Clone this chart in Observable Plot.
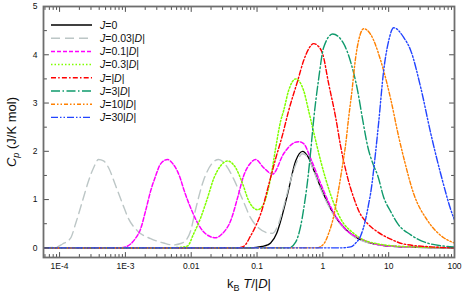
<!DOCTYPE html>
<html><head><meta charset="utf-8">
<script src="https://cdn.jsdelivr.net/npm/d3@7"></script>
<script src="https://cdn.jsdelivr.net/npm/@observablehq/plot@0.6"></script>
<style>
body{margin:0;background:#fff;}
#wrap{width:463px;height:299px;}
</style></head><body><div id="wrap"></div>
<script>
// ---- data: [kB T/|D|, Cp (J/K mol)] ----
const J0 = [[5.7e-5,0],[0.08,0],[0.12,0.03],[0.145,0.06],[0.161,0.1],[0.199,0.3],[0.229,0.56],[0.292,1.12],[0.386,1.8],[0.493,2.0],[0.588,1.9],[0.724,1.62],[0.927,1.25],[1.46,0.7],[2.65,0.29],[5.92,0.08],[15.2,0.02],[100,0]];
const J003 = [[5.7e-5,0],[8.7e-5,0.01],[1.11e-4,0.08],[1.47e-4,0.2],[1.75e-4,0.5],[2.24e-4,0.98],[2.76e-4,1.39],[3.29e-4,1.66],[3.91e-4,1.83],[4.66e-4,1.8],[5.56e-4,1.66],[7.1e-4,1.29],[9.07e-4,0.91],[1.12e-3,0.6],[1.53e-3,0.35],[2.42e-3,0.19],[3.81e-3,0.1],[5.21e-3,0.06],[6.9e-3,0.09],[8.22e-3,0.15],[9.79e-3,0.35],[0.01167,0.8],[0.01543,1.4],[0.0211,1.76],[0.0261,1.83],[0.0333,1.72],[0.0441,1.43],[0.0604,1.0],[0.08,0.62],[0.106,0.41],[0.145,0.31],[0.1726,0.3],[0.2056,0.45],[0.2535,0.85],[0.324,1.4],[0.414,1.82],[0.493,1.95],[0.608,1.85],[0.724,1.6],[0.927,1.22],[1.46,0.68],[2.65,0.28],[5.92,0.08],[15.2,0.02],[100,0]];
const J01 = [[5.7e-5,0],[7.88e-4,0],[1.007e-3,0.02],[1.2e-3,0.08],[1.43e-3,0.2],[1.7e-3,0.39],[2.03e-3,0.77],[2.42e-3,1.18],[2.88e-3,1.49],[3.43e-3,1.74],[4.38e-3,1.83],[5.21e-3,1.75],[6.21e-3,1.58],[6.9e-3,1.42],[7.67e-3,1.22],[9.79e-3,0.83],[0.0139,0.41],[0.0197,0.23],[0.0235,0.21],[0.03,0.3],[0.0397,0.56],[0.0507,1.04],[0.0625,1.49],[0.08,1.76],[0.0953,1.83],[0.126,1.66],[0.1726,1.53],[0.2535,1.95],[0.3475,2.16],[0.4285,2.2],[0.5105,2.16],[0.653,1.85],[0.927,1.33],[1.459,0.73],[2.223,0.38],[3.758,0.19],[9.66,0.04],[100,0]];
const J03 = [[5.7e-5,0],[3.81e-3,0],[6.9e-3,0.01],[8.81e-3,0.04],[0.01088,0.29],[0.0139,0.62],[0.01774,1.04],[0.0219,1.43],[0.028,1.7],[0.0357,1.8],[0.0473,1.66],[0.0604,1.33],[0.0745,0.98],[0.102,0.79],[0.126,0.91],[0.161,1.45],[0.192,2.07],[0.2286,2.63],[0.2535,2.84],[0.302,3.26],[0.386,3.5],[0.5105,3.26],[0.608,2.84],[0.7244,2.4],[0.927,1.8],[1.315,1.1],[1.866,0.6],[2.94,0.3],[4.8,0.13],[15.2,0.03],[100,0]];
const J1 = [[5.7e-5,0],[0.0507,0],[0.0625,0.03],[0.08,0.25],[0.0953,0.45],[0.1135,0.7],[0.15,1.3],[0.192,1.85],[0.245,2.35],[0.302,2.84],[0.414,3.46],[0.5105,3.88],[0.608,4.12],[0.7244,4.23],[0.863,4.17],[0.993,4.02],[1.225,3.4],[1.567,2.7],[1.866,2.1],[2.382,1.45],[2.94,1.04],[3.5,0.77],[4.8,0.5],[6.81,0.33],[10.74,0.18],[16.9,0.08],[43.6,0.02],[100,0]];
const J3 = [[5.7e-5,0],[0.302,0],[0.386,0.12],[0.46,0.45],[0.5105,0.8],[0.5875,1.4],[0.653,2.0],[0.7244,2.65],[0.863,3.5],[1.028,4.15],[1.41,4.43],[2.07,4.23],[2.646,3.85],[3.38,3.25],[4.03,2.65],[4.8,2.1],[5.92,1.7],[6.81,1.5],[8.39,1.05],[10.74,0.75],[13.7,0.5],[21.6,0.27],[43.6,0.08],[100,0.02]];
const J10 = [[5.7e-5,0],[0.805,0],[1.028,0.08],[1.225,0.3],[1.459,0.65],[1.679,1.1],[1.932,1.6],[2.223,2.15],[2.466,2.7],[2.74,3.2],[3.155,3.95],[3.5,4.3],[4.17,4.54],[5.33,4.42],[7.57,3.88],[10.74,3.08],[14.2,2.3],[16.9,1.87],[24.0,1.12],[39.2,0.56],[68.5,0.21],[100,0.1]];
const J30 = [[5.7e-5,0],[1.866,0],[2.646,0.02],[3.155,0.1],[3.758,0.25],[4.477,0.6],[4.966,0.91],[5.33,1.14],[6.35,2.0],[7.05,2.6],[8.39,3.67],[10.0,4.29],[11.9,4.56],[16.9,4.36],[21.6,4.09],[30.7,3.32],[43.6,2.37],[61.8,1.53],[97.3,0.62],[100,0.58]];

const seriesData = [J0, J003, J01, J03, J1, J3, J10, J30];
const legendCoef = ["0", "0.03", "0.1", "0.3", "", "3", "10", "30"]; // J = coef|D|
const seriesColors = ["#000000", "#bcc6c6", "#ff00ff", "#80ff00", "#ff0000", "#0f9a6c", "#ff8000", "#2244ff"];
const seriesDash = [null, "9,5", "4,2", "1.5,2", "5,2.2,1.5,2.2", "9,2.5,1.5,2.5", "4,2,1.5,2,1.5,2", "7,2,1.5,2,1.5,2"];
const seriesWidth = [1.3, 1.4, 1.5, 1.5, 1.4, 1.4, 1.4, 1.4];

const xTickValues = [1e-4, 1e-3, 1e-2, 1e-1, 1, 10, 100];
const xTickLabels = ["1E-4", "1E-3", "0.01", "0.1", "1", "10", "100"];
const yTickValues = [0, 1, 2, 3, 4, 5];
const yTickLabels = ["0", "1", "2", "3", "4", "5"];
const yMinorValues = [0.5, 1.5, 2.5, 3.5, 4.5];
const xDomain = [5.7e-5, 100];
const yDomain = [-0.2, 5];

const xMinorValues = [];
for (let e = -5; e <= 1; e++) for (let k = 2; k <= 9; k++) {
  const v = k * Math.pow(10, e);
  if (v > xDomain[0] && v < xDomain[1]) xMinorValues.push(v);
}

const tickShape = {draw(c, l) { c.moveTo(0, 0); c.lineTo(0, -l); }};
const tickColor = "#505050";
const tickMarks = (vals, len, anchor, rot, ch) => Plot.vector(vals, {
  [ch]: d => d, frameAnchor: anchor, rotate: rot, length: len, anchor: "start",
  shape: tickShape, stroke: tickColor, strokeWidth: 1
});

const font = "'Liberation Sans', Arial, sans-serif";

const plot = Plot.plot({
  width: 463, height: 299,
  marginLeft: 43, marginRight: 9, marginTop: 6, marginBottom: 42,
  style: {fontFamily: font, fontSize: "8.5px", background: "#fff", overflow: "visible"},
  x: {type: "log", domain: xDomain},
  y: {domain: yDomain},
  marks: [
    ...seriesData.map((arr, i) => Plot.line(arr, {
      x: d => d[0], y: d => d[1], stroke: seriesColors[i], strokeWidth: seriesWidth[i],
      strokeDasharray: seriesDash[i], curve: "monotone-x", clip: true
    })),
    tickMarks(xTickValues, 5, "bottom", 0, "x"),
    tickMarks(xMinorValues, 3, "bottom", 0, "x"),
    tickMarks(xTickValues, 5, "top", 180, "x"),
    tickMarks(xMinorValues, 3, "top", 180, "x"),
    tickMarks(yTickValues, 5, "left", 90, "y"),
    tickMarks(yMinorValues, 3, "left", 90, "y"),
    tickMarks(yTickValues, 5, "right", -90, "y"),
    tickMarks(yMinorValues, 3, "right", -90, "y"),
    Plot.frame({stroke: "#6e6e6e", strokeWidth: 1.8}),
    Plot.axisX({ticks: xTickValues, tickFormat: d => xTickLabels[xTickValues.indexOf(d)], tickSize: 0, tickPadding: 5, label: null, fontSize: 8.5, fill: "#111"}),
    Plot.axisY({ticks: yTickValues, tickFormat: d => yTickLabels[yTickValues.indexOf(d)], tickSize: 0, tickPadding: 6, label: null, fontSize: 8.5, fill: "#111"})
  ]
});
document.getElementById("wrap").appendChild(plot);

// ---- axis titles and legend (inside the same SVG) ----
const svg = d3.select(plot);
const g = svg.append("g").attr("font-family", font).attr("fill", "#111");

const xl = g.append("text").attr("x", 249).attr("y", 288).attr("text-anchor", "middle").attr("font-size", 13);
xl.append("tspan").text("k");
xl.append("tspan").attr("font-size", 9).attr("dy", 3).text("B");
xl.append("tspan").attr("dy", -3).text(" ");
xl.append("tspan").attr("font-style", "italic").text("T");
xl.append("tspan").text("/|");
xl.append("tspan").attr("font-style", "italic").text("D");
xl.append("tspan").text("|");

const yl = g.append("text").attr("transform", "translate(15.5,132) rotate(-90)").attr("text-anchor", "middle").attr("font-size", 13);
yl.append("tspan").attr("font-style", "italic").text("C");
yl.append("tspan").attr("font-style", "italic").attr("font-size", 9).attr("dy", 3).text("p");
yl.append("tspan").attr("dy", -3).text(" (J/K mol)");

const lg = g.append("g");
legendCoef.forEach((c, i) => {
  const y = 25 + i * 13.2;
  lg.append("line").attr("x1", 51).attr("x2", 92).attr("y1", y).attr("y2", y)
    .attr("stroke", seriesColors[i]).attr("stroke-width", seriesWidth[i])
    .attr("stroke-dasharray", seriesDash[i]);
  const t = lg.append("text").attr("x", 100).attr("y", y + 3.8).attr("font-size", 10.5).attr("text-anchor", "start");
  t.append("tspan").attr("font-style", "italic").text("J");
  if (i === 0) { t.append("tspan").text("=0"); return; }
  t.append("tspan").text("=" + c + "|");
  t.append("tspan").attr("font-style", "italic").text("D");
  t.append("tspan").text("|");
});
</script>
</body></html>
